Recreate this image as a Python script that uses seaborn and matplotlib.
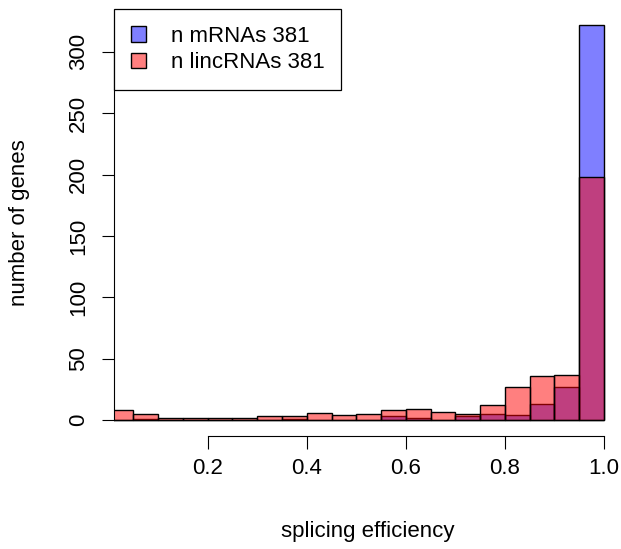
import numpy as np
import pandas as pd
import matplotlib
matplotlib.use("Agg")
import matplotlib.pyplot as plt
import seaborn as sns
from matplotlib.patches import Patch

# Histogram bins (splicing efficiency, width 0.05)
bin_edges = [0.00, 0.05, 0.10, 0.15, 0.20, 0.25, 0.30, 0.35, 0.40, 0.45, 0.50,
             0.55, 0.60, 0.65, 0.70, 0.75, 0.80, 0.85, 0.90, 0.95, 1.00]
mrna_counts = [0, 1, 0, 0, 0, 0, 0, 1, 0, 0, 0, 3, 2, 0, 3, 5, 4, 13, 27, 322]
linc_counts = [8, 5, 2, 2, 2, 2, 3, 3, 6, 4, 5, 8, 9, 7, 5, 12, 27, 36, 37, 198]
legend_labels = ["n mRNAs 381", "n lincRNAs 381"]
x_ticks = [0.2, 0.4, 0.6, 0.8, 1.0]
x_tick_labels = ["0.2", "0.4", "0.6", "0.8", "1.0"]
y_ticks = [0, 50, 100, 150, 200, 250, 300]

centers = [(a + b) / 2 for a, b in zip(bin_edges[:-1], bin_edges[1:])]
df_m = pd.DataFrame({"eff": centers, "n": mrna_counts})
df_l = pd.DataFrame({"eff": centers, "n": linc_counts})

sns.set_style("white")
plt.rcParams["font.family"] = ["Liberation Sans", "DejaVu Sans"]
plt.rcParams["text.color"] = "black"
plt.rcParams["axes.labelcolor"] = "black"

W, H = 621, 549
fig = plt.figure(figsize=(W / 100, H / 100), dpi=100)
ax = fig.add_axes([114 / W, 1 - 436 / H, (621 - 114) / W, (436 - 9) / H])

blue = (0, 0, 1, 0.5)
red = (1, 0, 0, 0.5)

sns.histplot(data=df_m, x="eff", weights="n", bins=bin_edges, ax=ax,
             color="blue", edgecolor="black", linewidth=1.0)
n_m = len(ax.patches)
sns.histplot(data=df_l, x="eff", weights="n", bins=bin_edges, ax=ax,
             color="red", edgecolor="black", linewidth=1.0)
for i, p in enumerate(ax.patches):
    p.set_alpha(None)
    p.set_facecolor(blue if i < n_m else red)
    p.set_edgecolor("black")
    p.set_linewidth(1.0)

# x scale: 0 at px 108.6, 495.4 px/unit ; right edge of region at 621
x0 = (114 - 108.6) / 495.4
x1 = (621 - 108.6) / 495.4
ax.set_xlim(x0, x1)
ax.set_ylim(-12.9, 334.9)

for s in ["top", "right"]:
    ax.spines[s].set_visible(False)
ax.spines["left"].set_bounds(0, 300)
ax.spines["bottom"].set_bounds(0.2, 1.0)
for s in ["left", "bottom"]:
    ax.spines[s].set_color("black")
    ax.spines[s].set_linewidth(0.8)

ax.set_xticks(x_ticks)
ax.set_xticklabels(x_tick_labels)
ax.set_yticks(y_ticks)
ax.set_yticklabels([str(v) for v in y_ticks], rotation=90, va="center")
ax.tick_params(axis="both", which="major", bottom=True, left=True,
               direction="out", length=9, width=0.8,
               color="black", labelsize=16, labelcolor="black")
ax.tick_params(axis="x", pad=7)
ax.tick_params(axis="y", pad=9)
ax.set_xlabel("")
ax.set_ylabel("")
ax.grid(False)

fig.text(368 / W, 1 - 532 / H, "splicing efficiency", ha="center", va="center",
         fontsize=16, color="black")
fig.text(20 / W, 1 - 222.5 / H, "number of genes", ha="center", va="center",
         rotation=90, fontsize=16, color="black")

handles = [Patch(facecolor=blue, edgecolor="black", linewidth=1.0),
           Patch(facecolor=red, edgecolor="black", linewidth=1.0)]
leg = ax.legend(handles, legend_labels, loc="upper left",
                bbox_to_anchor=(0, 1), borderaxespad=0, fontsize=16,
                frameon=True, fancybox=False, edgecolor="black",
                handlelength=0.7, handleheight=0.7, handletextpad=1.1,
                borderpad=0.75, labelspacing=0.25)
leg.get_frame().set_linewidth(0.9)
leg.get_frame().set_alpha(1)
for t in leg.get_texts():
    t.set_color("black")

fig.savefig("out.png", dpi=100, facecolor="white")
